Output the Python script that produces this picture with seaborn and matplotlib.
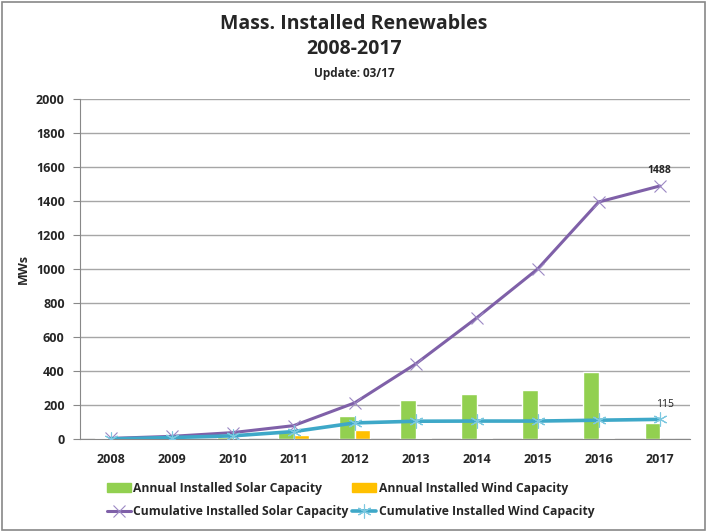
import numpy as np
import pandas as pd
import matplotlib
matplotlib.use("Agg")
import matplotlib.pyplot as plt
import seaborn as sns

years = ['2008', '2009', '2010', '2011', '2012', '2013', '2014', '2015', '2016', '2017']
annual_solar = [3, 5, 12, 40, 137, 230, 266, 290, 392, 94]
annual_wind = [0, 3, 8, 25, 50, 5, 3, 0, 5, 0]
cum_solar = [3, 15, 37, 78, 212, 441, 712, 1000, 1394, 1488]
cum_wind = [0, 8, 18, 43, 94, 104, 105, 105, 110, 115]

sns.set_style("white")
plt.rcParams['font.family'] = ['Open Sans', 'DejaVu Sans']

bars = pd.DataFrame({
    'Year': years * 2,
    'MW': annual_solar + annual_wind,
    'Series': ['Annual Installed Solar Capacity'] * 10 + ['Annual Installed Wind Capacity'] * 10,
})

fig = plt.figure(figsize=(7.08, 5.32), dpi=100)
ax = fig.add_axes([0.113, 0.175, 0.862, 0.639])

sns.barplot(data=bars, x='Year', y='MW', hue='Series', ax=ax, width=0.5,
            palette=['#92D050', '#FFC000'], saturation=1, legend=False)

xs = np.arange(len(years))
ax.plot(xs, cum_solar, color='#7F60A8', lw=2.2, marker='x', ms=8, mew=0.8,
        mec='#9C88C4', label='Cumulative Installed Solar Capacity', zorder=4)
ax.plot(xs, cum_wind, color='#3EA8C8', lw=2.6, marker=(6, 2, 0), ms=10, mew=0.8,
        mec='#7CC8E0', label='Cumulative Installed Wind Capacity', zorder=4)

ax.annotate('1488', (9, cum_solar[-1]), xytext=(0, 7), textcoords='offset points',
            ha='center', va='bottom', fontsize=7.5, fontweight='bold')
ax.annotate('115', (9, cum_wind[-1]), xytext=(4, 7), textcoords='offset points',
            ha='center', va='bottom', fontsize=7.5, color='#222222')

ax.set_ylim(0, 2000)
ax.set_yticks(range(0, 2001, 200))
ax.set_xlim(-0.5, 9.5)
ax.set_xticks(xs)
ax.set_xticks(np.arange(-0.5, 10, 1), minor=True)
ax.tick_params(axis='x', which='major', length=0, pad=10)
ax.tick_params(axis='x', which='minor', length=5, color='#888888', direction='out')
ax.tick_params(axis='y', length=5, color='#888888', direction='out', left=True, pad=6)
for lab in ax.get_xticklabels() + ax.get_yticklabels():
    lab.set_fontsize(9)
    lab.set_fontweight('bold')

ax.yaxis.grid(True, color='#a6a6a6', lw=1)
ax.set_axisbelow(True)
for s in ['top', 'right']:
    ax.spines[s].set_visible(False)
for s in ['left', 'bottom']:
    ax.spines[s].set_color('#888888')
ax.set_xlabel('')
ax.set_ylabel('MWs', fontsize=9, fontweight='bold', labelpad=4)

fig.text(0.5, 0.955, 'Mass. Installed Renewables', ha='center', va='center',
         fontsize=14, fontweight='bold')
fig.text(0.5, 0.908, '2008-2017', ha='center', va='center', fontsize=14, fontweight='bold')
fig.text(0.5, 0.862, 'Update: 03/17', ha='center', va='center', fontsize=8.5, fontweight='bold')

h_bar = [plt.Rectangle((0, 0), 1, 1, color='#92D050'), plt.Rectangle((0, 0), 1, 1, color='#FFC000')]
h_line, l_line = ax.get_legend_handles_labels()
handles = [h_bar[0], h_line[0], h_bar[1], h_line[1]]
labels = ['Annual Installed Solar Capacity', 'Cumulative Installed Solar Capacity',
          'Annual Installed Wind Capacity', 'Cumulative Installed Wind Capacity']
leg = fig.legend(handles, labels, ncol=2, loc='center', bbox_to_anchor=(0.495, 0.06),
                 frameon=False, prop={'size': 8.7, 'weight': 'bold'},
                 handlelength=2.0, handletextpad=0.2, columnspacing=0.3, labelspacing=0.85)

fig.add_artist(plt.Rectangle((0.003, 0.004), 0.993, 0.992, transform=fig.transFigure,
                             fill=False, ec='#888888', lw=1.2))

fig.savefig('out.png', dpi=100)
